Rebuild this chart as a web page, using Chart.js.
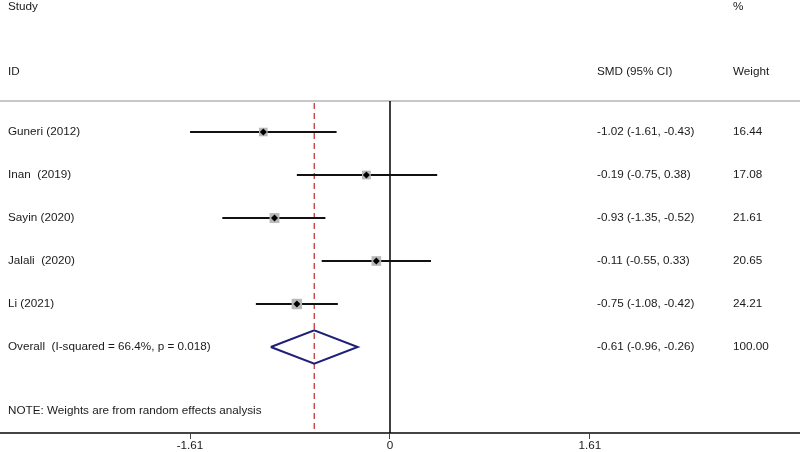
<!DOCTYPE html>
<html>
<head>
<meta charset="utf-8">
<script src="https://cdn.jsdelivr.net/npm/chart.js@4/dist/chart.umd.min.js"></script>
<style>
  html, body { margin: 0; padding: 0; background: #fff; }
  #wrap { width: 800px; height: 452px; }
</style>
</head>
<body>
<div id="wrap"><canvas id="forest"></canvas></div>
<script>
// study data
const studies = ['Guneri (2012)', 'Inan  (2019)', 'Sayin (2020)', 'Jalali  (2020)', 'Li (2021)']
const smd = [-1.02, -0.19, -0.93, -0.11, -0.75]
const ciLow = [-1.61, -0.75, -1.35, -0.55, -1.08]
const ciHigh = [-0.43, 0.38, -0.52, 0.33, -0.42]
const weights = ['16.44', '17.08', '21.61', '20.65', '24.21']

const overallLabel = 'Overall  (I-squared = 66.4%, p = 0.018)'
const overall = [-0.61, -0.96, -0.26]
const overallWeight = '100.00'
const xTicks = [-1.61, 0, 1.61]
const note = 'NOTE: Weights are from random effects analysis'

const fmt = v => v.toFixed(2)
const fontFamily = '"Liberation Sans", Arial, sans-serif'
const font = '11.7px ' + fontFamily

const datasets = []

// confidence interval lines (drawn lowest)
studies.forEach((s, i) => {
  datasets.push({
    type: 'line',
    order: 3,
    data: [{ x: ciLow[i], y: i }, { x: ciHigh[i], y: i }],
    borderColor: '#111',
    borderWidth: 2,
    pointRadius: 0
  })
})

// weight boxes
datasets.push({
  type: 'scatter',
  order: 2,
  data: studies.map((s, i) => ({ x: smd[i], y: i })),
  pointStyle: 'rect',
  pointRadius: weights.map(w => Math.sqrt(parseFloat(w)) * 1.5),
  backgroundColor: '#b8b8b8',
  borderWidth: 0
})

// point estimates (on top)
datasets.push({
  type: 'scatter',
  order: 0,
  data: studies.map((s, i) => ({ x: smd[i], y: i })),
  pointStyle: 'rectRot',
  pointRadius: 3.5,
  backgroundColor: '#000',
  borderWidth: 0
})

// overall diamond
const oy = studies.length
datasets.push({
  type: 'line',
  order: 1,
  data: [
    { x: overall[1], y: oy },
    { x: overall[0], y: oy - 0.39 },
    { x: overall[2], y: oy },
    { x: overall[0], y: oy + 0.39 },
    { x: overall[1], y: oy }
  ],
  borderColor: '#1f1f78',
  borderWidth: 2,
  pointRadius: 0,
  tension: 0
})

const forestText = {
  id: 'forestText',
  beforeDatasetsDraw(chart) {
    const c = chart.ctx
    const xs = chart.scales.x
    const ys = chart.scales.y
    const top = ys.getPixelForValue(-0.72)
    const bottom = chart.chartArea.bottom
    c.save()
    // header separator
    c.strokeStyle = '#c8c8c8'
    c.lineWidth = 2
    c.beginPath()
    c.moveTo(0, top)
    c.lineTo(chart.width, top)
    c.stroke()
    // null line
    c.strokeStyle = '#000'
    c.lineWidth = 1.5
    c.beginPath()
    c.moveTo(xs.getPixelForValue(0), top)
    c.lineTo(xs.getPixelForValue(0), bottom)
    c.stroke()
    // overall estimate line
    c.strokeStyle = '#c02828'
    c.lineWidth = 1.2
    c.setLineDash([6, 4])
    c.beginPath()
    c.moveTo(xs.getPixelForValue(overall[0]), top + 2)
    c.lineTo(xs.getPixelForValue(overall[0]), bottom)
    c.stroke()
    c.setLineDash([])

    c.fillStyle = '#1a1a1a'
    c.font = font
    c.textBaseline = 'middle'
    c.textAlign = 'left'
    c.fillText('Study', 8, ys.getPixelForValue(-2.91))
    c.fillText('%', 733, ys.getPixelForValue(-2.91))
    c.fillText('ID', 8, ys.getPixelForValue(-1.4))
    c.fillText('SMD (95% CI)', 597, ys.getPixelForValue(-1.4))
    c.fillText('Weight', 733, ys.getPixelForValue(-1.4))
    studies.forEach((s, i) => {
      const y = ys.getPixelForValue(i)
      c.fillText(s, 8, y)
      c.fillText(fmt(smd[i]) + ' (' + fmt(ciLow[i]) + ', ' + fmt(ciHigh[i]) + ')', 597, y)
      c.fillText(weights[i], 733, y)
    })
    const y = ys.getPixelForValue(oy)
    c.fillText(overallLabel, 8, y)
    c.fillText(fmt(overall[0]) + ' (' + fmt(overall[1]) + ', ' + fmt(overall[2]) + ')', 597, y)
    c.fillText(overallWeight, 733, y)
    c.fillText(note, 8, ys.getPixelForValue(6.49))
    c.restore()
  }
}

new Chart(document.getElementById('forest'), {
  type: 'scatter',
  data: { datasets },
  options: {
    responsive: true,
    maintainAspectRatio: false,
    animation: false,
    layout: { padding: 0, autoPadding: false },
    plugins: { legend: { display: false }, tooltip: { enabled: false } },
    scales: {
      x: {
        type: 'linear',
        min: -390 / 124.2,
        max: 410 / 124.2,
        afterBuildTicks: s => { s.ticks = xTicks.map(v => ({ value: v })) },
        afterFit: s => {
          s.height = 19
          s.paddingLeft = 0
          s.paddingRight = 0
          s.paddingTop = 0
          s.paddingBottom = 0
        },
        border: { display: true, color: '#444', width: 2 },
        grid: { drawOnChartArea: false, drawTicks: true, tickLength: 6, color: '#444' },
        ticks: {
          padding: 0,
          color: '#1a1a1a',
          font: { family: fontFamily, size: 11.7 },
          callback: v => v === 0 ? '0' : v.toFixed(2)
        }
      },
      y: {
        type: 'linear',
        display: false,
        reverse: true,
        min: -3.07,
        max: 7.0
      }
    }
  },
  plugins: [forestText]
})
</script>
</body>
</html>
